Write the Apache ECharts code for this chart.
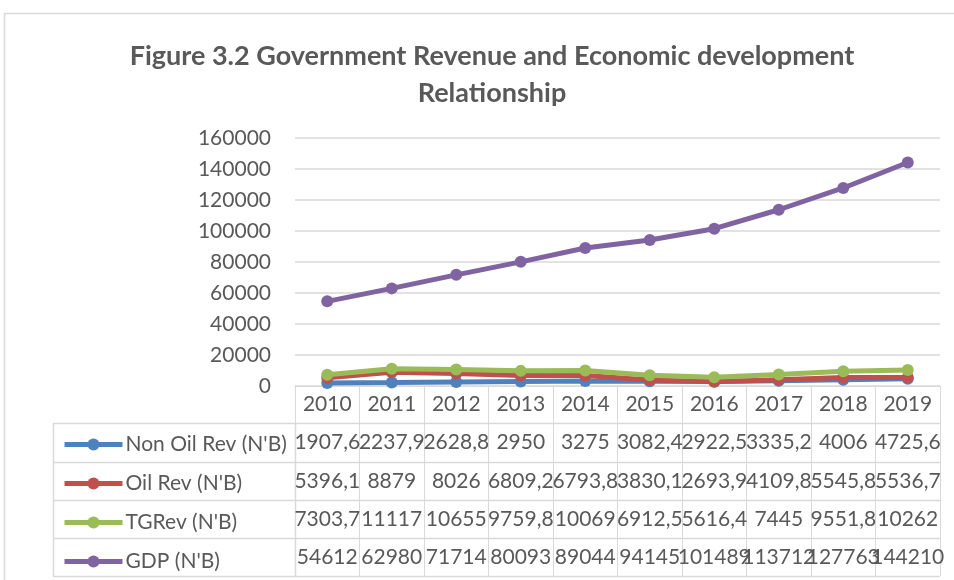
<!DOCTYPE html>
<html>
<head>
<meta charset="utf-8">
<script src="https://cdn.jsdelivr.net/npm/echarts@6/dist/echarts.min.js"></script>
<style>
  html, body { margin: 0; padding: 0; background: #fff; }
  #main { width: 954px; height: 580px; }
</style>
</head>
<body>
<div id="main"></div>
<script>
// data
var years = ['2010', '2011', '2012', '2013', '2014', '2015', '2016', '2017', '2018', '2019'];
var nonOilRev = [1907.6, 2237.9, 2628.8, 2950, 3275, 3082.4, 2922.5, 3335.2, 4006, 4725.6];
var oilRev = [5396.1, 8879, 8026, 6809.2, 6793.8, 3830.1, 2693.9, 4109.8, 5545.8, 5536.7];
var tgRev = [7303.7, 11117, 10655, 9759.8, 10069, 6912.5, 5616.4, 7445, 9551.8, 10262];
var gdp = [54612, 62980, 71714, 80093, 89044, 94145, 101489, 113712, 127763, 144210];
var seriesNames = ["Non Oil Rev (N'B)", "Oil Rev (N'B)", "TGRev (N'B)", "GDP (N'B)"];
var seriesColors = ['#4f81bd', '#c0504d', '#9bbb59', '#8064a2'];
var yTicks = { min: 0, max: 160000, interval: 20000 };

var allSeries = [nonOilRev, oilRev, tgRev, gdp];
var txt = '#595959';
var border = '#d9d9d9';
var font = 'Lato';

// layout of the data table under the plot
var tableLeft = 53, plotLeft = 295, plotRight = 940, axisY = 386;
var rowLines = [423, 462, 500, 538, 576];

function fmt(v) { return String(v).replace('.', ','); }

var xAxes = [{
    type: 'category',
    data: years,
    boundaryGap: true,
    axisLine: { lineStyle: { color: border, width: 1 } },
    axisTick: { show: true, length: rowLines[0] - axisY, lineStyle: { color: border } },
    axisLabel: { color: txt, fontSize: 21, fontFamily: font, margin: 8, interval: 0 }
}];
allSeries.forEach(function (vals, i) {
    xAxes.push({
        type: 'category',
        data: vals.map(fmt),
        position: 'bottom',
        offset: rowLines[i] - axisY,
        boundaryGap: true,
        axisLine: { show: false },
        axisTick: { show: true, length: rowLines[i + 1] - rowLines[i], lineStyle: { color: border } },
        axisLabel: { color: txt, fontSize: 21, fontFamily: font, margin: 9, interval: 0 }
    });
});

// table border lines
var graphics = [{
    type: 'rect',
    shape: { x: 4.5, y: 13.5, width: 1000, height: 700 },
    style: { fill: null, stroke: border, lineWidth: 1.5 },
    silent: true
}];
rowLines.forEach(function (y) {
    graphics.push({
        type: 'line',
        shape: { x1: tableLeft, y1: y + 0.5, x2: plotRight, y2: y + 0.5 },
        style: { stroke: border, lineWidth: 1.5 }
    });
});
[tableLeft, plotLeft].forEach(function (x) {
    graphics.push({
        type: 'line',
        shape: { x1: x + 0.5, y1: rowLines[0], x2: x + 0.5, y2: rowLines[4] },
        style: { stroke: border, lineWidth: 1.5 }
    });
});

var myChart = echarts.init(document.getElementById('main'));
var option = {
    animation: false,
    color: seriesColors,
    title: {
        text: 'Figure 3.2 Government Revenue and Economic development\nRelationship',
        left: 487,
        top: 33,
        textAlign: 'center',
        textStyle: { color: txt, fontSize: 27, fontWeight: 'bold', fontFamily: font, lineHeight: 37 }
    },
    legend: {
        orient: 'vertical',
        left: 57,
        top: rowLines[0] + 6,
        itemWidth: 58,
        itemHeight: 15,
        itemGap: 18,
        data: seriesNames,
        lineStyle: { width: 5 },
        textStyle: { color: txt, fontSize: 21, fontFamily: font, height: 20, lineHeight: 20, padding: [0, 0, 0, -2] }
    },
    grid: { left: plotLeft, right: 954 - plotRight, top: 138, bottom: 580 - axisY, containLabel: false },
    xAxis: xAxes,
    yAxis: {
        type: 'value',
        min: yTicks.min,
        max: yTicks.max,
        interval: yTicks.interval,
        axisLine: { show: false },
        axisTick: { show: false },
        splitLine: { lineStyle: { color: border, width: 1.5 } },
        axisLabel: { color: txt, fontSize: 21, fontFamily: font, margin: 24, formatter: function (v) { return String(v); } }
    },
    series: allSeries.map(function (vals, i) {
        return {
            name: seriesNames[i],
            type: 'line',
            data: vals,
            symbol: 'circle',
            symbolSize: 12,
            lineStyle: { width: 5 },
            z: 2 + i
        };
    }),
    graphic: graphics
};
myChart.setOption(option);
</script>
</body>
</html>
